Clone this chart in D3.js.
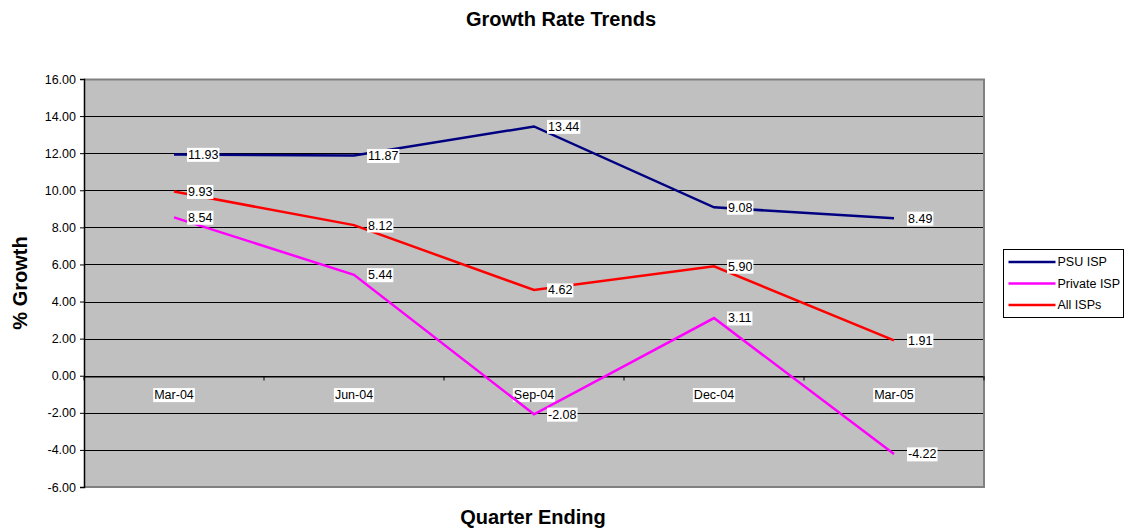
<!DOCTYPE html>
<html>
<head>
<meta charset="utf-8">
<script src="https://cdn.jsdelivr.net/npm/d3@7"></script>
<style>
  body { margin: 0; background: #fff; }
  svg { font-family: "Liberation Sans", Arial, sans-serif; }
</style>
</head>
<body>
<div id="chart"></div>
<script>
// Chart data
var quarters = ["Mar-04", "Jun-04", "Sep-04", "Dec-04", "Mar-05"];
var psuIsp = [11.93, 11.87, 13.44, 9.08, 8.49];
var privateIsp = [8.54, 5.44, -2.08, 3.11, -4.22];
var allIsps = [9.93, 8.12, 4.62, 5.90, 1.91];
var yTicks = [-6, -4, -2, 0, 2, 4, 6, 8, 10, 12, 14, 16];

var series = [
  { name: "PSU ISP", values: psuIsp, color: "#000080" },
  { name: "Private ISP", values: privateIsp, color: "#FF00FF" },
  { name: "All ISPs", values: allIsps, color: "#FF0000" }
];

// plain hyphen for negatives, like the original
var fmt = d3.formatLocale({ decimal: ".", thousands: ",", grouping: [3], currency: ["", ""], minus: "-" }).format(".2f");

var svgWidth = 1131;
var svgHeight = 531;

var margin = { top: 79, right: 147, bottom: 44, left: 84 };
var chartWidth = svgWidth - margin.left - margin.right;
var chartHeight = svgHeight - margin.top - margin.bottom;

var svg = d3.select("#chart")
  .append("svg")
  .attr("width", svgWidth)
  .attr("height", svgHeight);

var chartGroup = svg.append("g")
  .attr("transform", `translate(${margin.left}, ${margin.top})`);

var xScale = d3.scaleBand()
  .domain(quarters)
  .range([0, chartWidth]);

var yScale = d3.scaleLinear()
  .domain([-6, 16])
  .range([chartHeight, 0]);

// plot background
chartGroup.append("rect")
  .attr("width", chartWidth)
  .attr("height", chartHeight)
  .attr("fill", "#C0C0C0");

// gridlines
chartGroup.append("g")
  .selectAll("line")
  .data(yTicks.filter(d => d !== -6 && d !== 16))
  .enter()
  .append("line")
  .attr("x1", 0)
  .attr("x2", chartWidth)
  .attr("y1", d => Math.round(yScale(d)) + 0.5)
  .attr("y2", d => Math.round(yScale(d)) + 0.5)
  .attr("stroke", "#000")
  .attr("stroke-width", 1);

// gray border top / right / bottom
chartGroup.append("path")
  .attr("d", `M0,0.5H${chartWidth}V${chartHeight}H0`)
  .attr("fill", "none")
  .attr("stroke", "#808080")
  .attr("stroke-width", 2);

// y axis
var leftAxis = d3.axisLeft(yScale)
  .tickValues(yTicks)
  .tickFormat(fmt)
  .tickSize(4)
  .tickPadding(4);

var yAxisG = chartGroup.append("g")
  .call(leftAxis);
yAxisG.select(".domain").attr("stroke", "#000").attr("stroke-width", 1.5);
yAxisG.selectAll("text").attr("font-size", "12.5px").attr("fill", "#000")
  .attr("font-family", "Liberation Sans, Arial, sans-serif");

// x axis at zero
var bottomAxis = d3.axisBottom(xScale).tickSize(0).tickFormat("");
var xAxisG = chartGroup.append("g")
  .attr("transform", `translate(0, ${Math.round(yScale(0)) + 0.5})`)
  .call(bottomAxis);
xAxisG.select(".domain").attr("stroke", "#000");

// tick marks between categories
xAxisG.selectAll(".sep")
  .data(d3.range(quarters.length + 1))
  .enter()
  .append("line")
  .attr("x1", d => d * xScale.bandwidth())
  .attr("x2", d => d * xScale.bandwidth())
  .attr("y1", 0)
  .attr("y2", 4)
  .attr("stroke", "#000");

// category labels with white boxes
var catG = chartGroup.append("g")
  .selectAll("g")
  .data(quarters)
  .enter()
  .append("g")
  .attr("transform", d => `translate(${xScale(d) + xScale.bandwidth() / 2}, ${yScale(0) + 19})`);

catG.append("text")
  .text(d => d)
  .attr("text-anchor", "middle")
  .attr("dy", "0.35em")
  .attr("font-size", "12.5px")
  .attr("fill", "#000");

catG.each(function() {
  var g = d3.select(this);
  var bb = g.select("text").node().getBBox();
  g.insert("rect", "text")
    .attr("x", bb.x - 1)
    .attr("y", bb.y)
    .attr("width", bb.width + 2)
    .attr("height", bb.height)
    .attr("fill", "#fff");
});

// lines
var line = d3.line()
  .x((d, i) => xScale(quarters[i]) + xScale.bandwidth() / 2)
  .y(d => yScale(d));

chartGroup.append("g")
  .selectAll("path")
  .data(series)
  .enter()
  .append("path")
  .attr("d", d => line(d.values))
  .attr("fill", "none")
  .attr("stroke", d => d.color)
  .attr("stroke-width", 2.5);

// data labels
series.forEach(function(s) {
  var lbl = chartGroup.append("g")
    .selectAll("g")
    .data(s.values)
    .enter()
    .append("g")
    .attr("transform", (d, i) => `translate(${xScale(quarters[i]) + xScale.bandwidth() / 2 + 14}, ${yScale(d)})`);

  lbl.append("text")
    .text(d => fmt(d))
    .attr("dy", "0.35em")
    .attr("font-size", "12.5px")
    .attr("fill", "#000");

  lbl.each(function() {
    var g = d3.select(this);
    var bb = g.select("text").node().getBBox();
    g.insert("rect", "text")
      .attr("x", bb.x - 1)
      .attr("y", bb.y)
      .attr("width", bb.width + 2)
      .attr("height", bb.height)
      .attr("fill", "#fff");
  });
});

// title
svg.append("text")
  .attr("x", 561)
  .attr("y", 26)
  .attr("text-anchor", "middle")
  .attr("font-size", "20px")
  .style("font-weight", "bold")
  .text("Growth Rate Trends");

// x axis label
svg.append("text")
  .attr("x", 533)
  .attr("y", 524)
  .attr("text-anchor", "middle")
  .attr("font-size", "20px")
  .style("font-weight", "bold")
  .text("Quarter Ending");

// y axis label
svg.append("text")
  .attr("transform", "translate(27, 283) rotate(-90)")
  .attr("text-anchor", "middle")
  .attr("font-size", "20px")
  .style("font-weight", "bold")
  .text("% Growth");

// legend
var legend = svg.append("g")
  .attr("transform", "translate(1003.5, 249.5)");

legend.append("rect")
  .attr("width", 120)
  .attr("height", 68)
  .attr("fill", "#fff")
  .attr("stroke", "#000");

var items = legend.selectAll(".item")
  .data(series)
  .enter()
  .append("g")
  .attr("transform", (d, i) => `translate(0, ${12.5 + i * 21.5})`);

items.append("line")
  .attr("x1", 5)
  .attr("x2", 52)
  .attr("stroke", d => d.color)
  .attr("stroke-width", 2.5);

items.append("text")
  .attr("x", 54)
  .attr("dy", "0.35em")
  .attr("font-size", "12.5px")
  .text(d => d.name);
</script>
</body>
</html>
